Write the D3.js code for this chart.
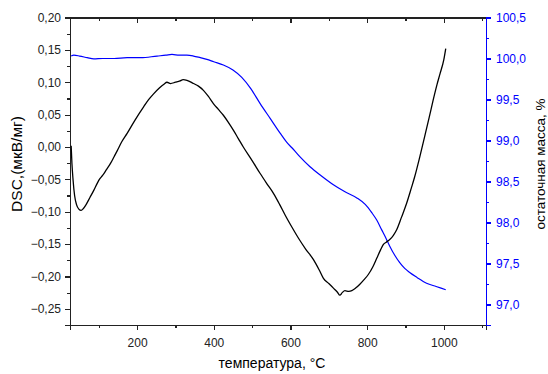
<!DOCTYPE html>
<html>
<head>
<meta charset="utf-8">
<script src="https://cdn.jsdelivr.net/npm/d3@7"></script>
<style>
  body { margin: 0; background: #fff; }
  svg { font-family: "Liberation Sans", Arial, sans-serif; }
  .axis path, .axis line { shape-rendering: crispEdges; }
</style>
</head>
<body>
<svg id="chart"></svg>
<script>
// Chart size
const width = 548;
const height = 374;

// DSC curve (black, left axis)
const dscTemp = [28, 30, 33, 37, 42, 48, 54, 60, 67, 77, 87, 97, 103, 110, 120, 131, 140, 148, 160, 174,
    195, 217, 230, 243, 258, 270, 278, 287, 300, 312, 320, 330, 347, 360, 373, 386, 399, 412, 425, 438,
    451, 464, 477, 500, 521, 540, 556, 572, 586, 604, 621, 640, 660, 675, 686, 700, 712, 722, 729, 735,
    742, 752, 760, 770, 781, 792, 803, 815, 825, 835, 842, 850, 859, 868, 877, 890, 903, 915, 924, 937,
    950, 962, 972, 982, 990, 1000, 1005];
const dscValue = [0.002, -0.025, -0.051, -0.075, -0.089, -0.096, -0.098, -0.095, -0.089, -0.078, -0.067, -0.055, -0.049, -0.044, -0.035, -0.025, -0.015, -0.006, 0.008, 0.021,
    0.042, 0.062, 0.073, 0.082, 0.091, 0.097, 0.100, 0.098, 0.100, 0.102, 0.104, 0.103, 0.098, 0.094, 0.0875, 0.078, 0.067, 0.058, 0.049, 0.038,
    0.026, 0.013, 0.0, -0.021, -0.041, -0.058, -0.072, -0.089, -0.105, -0.124, -0.141, -0.158, -0.174, -0.190, -0.203, -0.211, -0.218, -0.224, -0.229, -0.225,
    -0.222, -0.223, -0.222, -0.218, -0.212, -0.205, -0.197, -0.185, -0.172, -0.159, -0.151, -0.147, -0.143, -0.137, -0.128, -0.108, -0.087, -0.064, -0.046, -0.016,
    0.016, 0.046, 0.072, 0.096, 0.113, 0.135, 0.152];

// Residual mass curve (blue, right axis)
const massTemp = [28, 35, 50, 70, 87, 110, 140, 174, 210, 252, 275, 291, 310, 330, 347, 365, 382, 400, 425, 450,
    473, 497, 521, 547, 573, 590, 608, 625, 651, 680, 712, 740, 773, 795, 812, 825, 838, 850, 859, 872,
    885, 898, 911, 930, 955, 980, 1005];
const massValue = [100.03, 100.04, 100.03, 100.01, 99.995, 100.0, 100.0, 100.01, 100.01, 100.03, 100.04, 100.05, 100.04, 100.04, 100.03, 100.01, 99.99, 99.96, 99.92, 99.86,
    99.77, 99.63, 99.45, 99.27, 99.09, 98.98, 98.89, 98.80, 98.68, 98.57, 98.46, 98.38, 98.30, 98.22, 98.12, 98.03, 97.91, 97.80, 97.71, 97.60,
    97.51, 97.44, 97.39, 97.33, 97.26, 97.22, 97.18];

// Tick values
const xMajor = [200, 400, 600, 800, 1000];
const xMinor = [100, 300, 500, 700, 900, 1100];
const leftMajor = [-0.25, -0.20, -0.15, -0.10, -0.05, 0.00, 0.05, 0.10, 0.15, 0.20];
const leftMinor = [-0.275, -0.225, -0.175, -0.125, -0.075, -0.025, 0.025, 0.075, 0.125, 0.175];
const rightMajor = [97.0, 97.5, 98.0, 98.5, 99.0, 99.5, 100.0, 100.5];
const rightMinor = [96.75, 97.25, 97.75, 98.25, 98.75, 99.25, 99.75, 100.25];

// Plot area
const plotLeft = 70, plotRight = 486, plotTop = 17.5, plotBottom = 325;
const blue = "#0000ff";
const axisColor = "#222";

const svg = d3.select("#chart")
    .attr("width", width)
    .attr("height", height);

const x = d3.scaleLinear().domain([25, 1110]).range([plotLeft, plotRight]);
const yL = d3.scaleLinear().domain([-0.275, 0.2]).range([plotBottom, plotTop]);
const yR = d3.scaleLinear().domain([96.75, 100.5]).range([plotBottom, plotTop]);

// comma decimal separator
const ru = d3.formatLocale({decimal: ",", thousands: "\u00a0", grouping: [3], currency: ["", ""]});

function styleAxis(g, color) {
    g.select(".domain").attr("stroke", color).attr("stroke-width", 1.5);
    g.selectAll(".tick line").attr("stroke", color).attr("stroke-width", 1.2);
    g.selectAll(".tick text").attr("fill", color).attr("font-size", 12)
        .attr("font-family", "Liberation Sans, Arial, sans-serif");
}

// Bottom axis
const gx = svg.append("g").attr("class", "axis").attr("transform", `translate(0,${plotBottom})`);
gx.call(d3.axisBottom(x).tickValues(xMajor).tickSize(5).tickPadding(6).tickFormat(d3.format("d")));
gx.append("g").call(d3.axisBottom(x).tickValues(xMinor).tickSize(3).tickFormat(""))
    .select(".domain").remove();
styleAxis(gx, axisColor);
gx.selectAll(".tick text").attr("dy", "0.9em");

// Top axis (ticks inward)
const gt = svg.append("g").attr("class", "axis").attr("transform", `translate(0,${plotTop})`);
gt.call(d3.axisBottom(x).tickValues(xMajor).tickSize(5).tickFormat(""));
gt.append("g").call(d3.axisBottom(x).tickValues(xMinor).tickSize(3).tickFormat(""))
    .select(".domain").remove();
styleAxis(gt, axisColor);

// Left axis
const gl = svg.append("g").attr("class", "axis").attr("transform", `translate(${plotLeft},0)`);
gl.call(d3.axisLeft(yL).tickValues(leftMajor).tickSize(5).tickPadding(4).tickFormat(ru.format(".2f")));
gl.append("g").call(d3.axisLeft(yL).tickValues(leftMinor).tickSize(3).tickFormat(""))
    .select(".domain").remove();
styleAxis(gl, axisColor);

// Right axis (blue)
const gr = svg.append("g").attr("class", "axis").attr("transform", `translate(${plotRight},0)`);
gr.call(d3.axisRight(yR).tickValues(rightMajor).tickSize(5).tickPadding(5).tickFormat(ru.format(".1f")));
gr.append("g").call(d3.axisRight(yR).tickValues(rightMinor).tickSize(3).tickFormat(""))
    .select(".domain").remove();
styleAxis(gr, blue);

// Curves
const dscData = dscTemp.map((t, i) => [t, dscValue[i]]);
const massData = massTemp.map((t, i) => [t, massValue[i]]);

svg.append("path")
    .datum(massData)
    .attr("fill", "none")
    .attr("stroke", blue)
    .attr("stroke-width", 1.2)
    .attr("d", d3.line().x(d => x(d[0])).y(d => yR(d[1])).curve(d3.curveMonotoneX));

svg.append("path")
    .datum(dscData)
    .attr("fill", "none")
    .attr("stroke", "#000")
    .attr("stroke-width", 1.3)
    .attr("d", d3.line().x(d => x(d[0])).y(d => yL(d[1])).curve(d3.curveMonotoneX));

// Axis titles
svg.append("text")
    .attr("transform", `translate(${(plotLeft + plotRight) / 2 - 6},368)`)
    .attr("text-anchor", "middle")
    .attr("font-size", 14)
    .text("температура, °C");

svg.append("text")
    .attr("transform", `translate(22,164) rotate(-90)`)
    .attr("text-anchor", "middle")
    .attr("font-size", 15.5)
    .text("DSC,(мкВ/мг)");

svg.append("text")
    .attr("transform", `translate(545,164) rotate(-90)`)
    .attr("text-anchor", "middle")
    .attr("font-size", 13.5)
    .text("остаточная масса, %");
</script>
</body>
</html>
